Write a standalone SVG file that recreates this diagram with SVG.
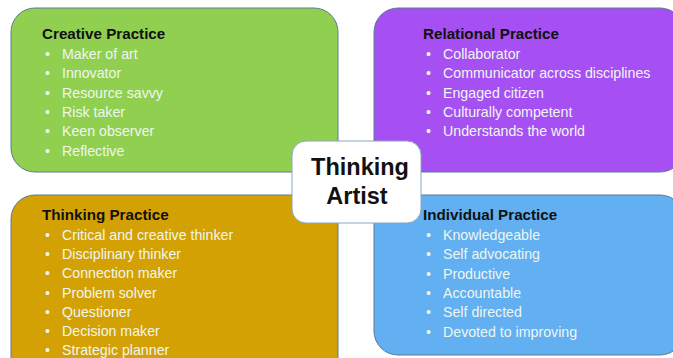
<svg xmlns="http://www.w3.org/2000/svg" width="673" height="358" viewBox="0 0 673 358">
<style>
.box{stroke:#5b7d94;stroke-width:1}
.h{font-family:"Liberation Sans",Arial,sans-serif;font-weight:bold;font-size:15.2px;fill:#111}
.i{font-family:"Liberation Sans",Arial,sans-serif;font-size:14.2px;fill:#eef6f0}
.c{font-family:"Liberation Sans",Arial,sans-serif;font-weight:bold;font-size:23.5px;fill:#111;text-anchor:middle}
</style>
<rect width="673" height="358" fill="#ffffff"/>
<g id="creative">
<rect class="box" x="11" y="8" width="327" height="164" rx="24" fill="#91cf50"/>
<text class="h" x="42" y="39">Creative Practice</text>
<g class="i">
<text x="45" y="59">•<tspan x="62">Maker of art</tspan></text>
<text x="45" y="78.3">•<tspan x="62">Innovator</tspan></text>
<text x="45" y="97.6">•<tspan x="62">Resource savvy</tspan></text>
<text x="45" y="116.9">•<tspan x="62">Risk taker</tspan></text>
<text x="45" y="136.2">•<tspan x="62">Keen observer</tspan></text>
<text x="45" y="155.5">•<tspan x="62">Reflective</tspan></text>
</g>
</g>
<g id="relational">
<rect class="box" x="374" y="8" width="310" height="164" rx="24" fill="#a650f3"/>
<text class="h" x="423" y="39">Relational Practice</text>
<g class="i">
<text x="426" y="59">•<tspan x="443">Collaborator</tspan></text>
<text x="426" y="78.3">•<tspan x="443">Communicator across disciplines</tspan></text>
<text x="426" y="97.6">•<tspan x="443">Engaged citizen</tspan></text>
<text x="426" y="116.9">•<tspan x="443">Culturally competent</tspan></text>
<text x="426" y="136.2">•<tspan x="443">Understands the world</tspan></text>
</g>
</g>
<g id="thinking">
<rect class="box" x="11" y="195" width="327" height="190" rx="24" fill="#d4a104"/>
<text class="h" x="42" y="220">Thinking Practice</text>
<g class="i">
<text x="45" y="240">•<tspan x="62">Critical and creative thinker</tspan></text>
<text x="45" y="259.2">•<tspan x="62">Disciplinary thinker</tspan></text>
<text x="45" y="278.4">•<tspan x="62">Connection maker</tspan></text>
<text x="45" y="297.6">•<tspan x="62">Problem solver</tspan></text>
<text x="45" y="316.8">•<tspan x="62">Questioner</tspan></text>
<text x="45" y="336">•<tspan x="62">Decision maker</tspan></text>
<text x="45" y="355.2">•<tspan x="62">Strategic planner</tspan></text>
</g>
</g>
<g id="individual">
<rect class="box" x="374" y="195" width="310" height="160" rx="24" fill="#62aff1"/>
<text class="h" x="423" y="220">Individual Practice</text>
<g class="i">
<text x="426" y="240">•<tspan x="443">Knowledgeable</tspan></text>
<text x="426" y="259.3">•<tspan x="443">Self advocating</tspan></text>
<text x="426" y="278.6">•<tspan x="443">Productive</tspan></text>
<text x="426" y="297.9">•<tspan x="443">Accountable</tspan></text>
<text x="426" y="317.2">•<tspan x="443">Self directed</tspan></text>
<text x="426" y="336.5">•<tspan x="443">Devoted to improving</tspan></text>
</g>
</g>
<g id="center">
<rect x="292" y="141" width="129" height="82" rx="14" fill="#ffffff" stroke="#8aa6bf" stroke-width="1"/>
<text class="c" x="360" y="175">Thinking</text>
<text class="c" x="357" y="204">Artist</text>
</g>
<g id="connectors"/>
</svg>
